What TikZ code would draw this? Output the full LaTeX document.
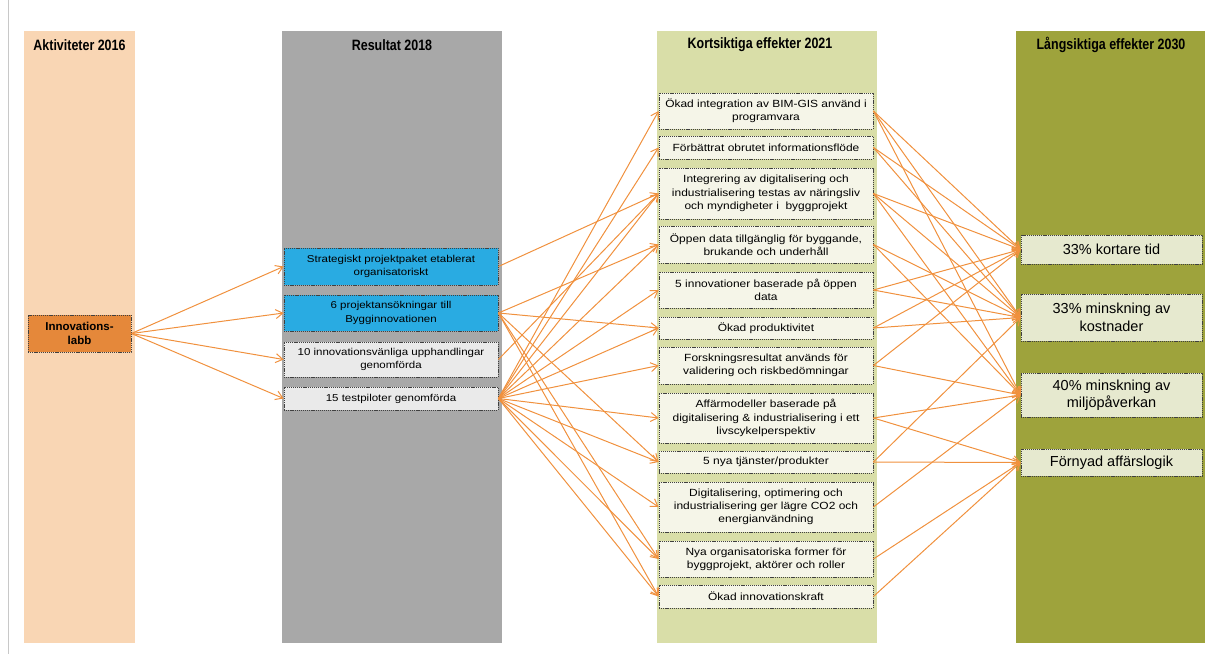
\documentclass[tikz,border=0pt]{standalone}
\usepackage{fontspec}
\setmainfont{Liberation Sans}
\newfontfamily\boxfont[FakeStretch=1.15]{Liberation Sans}
\newfontfamily\headfont[FakeStretch=0.83]{Liberation Sans}
\usetikzlibrary{arrows.meta}
\definecolor{peach}{HTML}{F9D6B4}
\definecolor{colgray}{HTML}{A8A8A8}
\definecolor{paleolive}{HTML}{D9DEA8}
\definecolor{olive}{HTML}{9EA33C}
\definecolor{labborange}{HTML}{E5883A}
\definecolor{resblue}{HTML}{29ABE2}
\definecolor{resgray}{HTML}{EAEAEA}
\definecolor{effcream}{HTML}{F5F5E8}
\definecolor{ltcream}{HTML}{E6E9CF}
\definecolor{linkorange}{HTML}{F0913E}
\definecolor{framegray}{HTML}{C8C8C8}
\begin{document}
\begin{tikzpicture}[x=1pt,y=-1pt,line join=round,
  box/.style={draw=black!75,dash pattern=on 1.2pt off 0.9pt,line width=.8pt,
    inner sep=0pt,align=center,font=\boxfont\fontsize{10}{13.3}\selectfont},
  resbox/.style={box,minimum width=214pt,fill=#1},
  effbox/.style={box,minimum width=214pt,fill=effcream,
    font=\boxfont\fontsize{10.4}{13.3}\selectfont},
  ltbox/.style={box,minimum width=181pt,fill=ltcream,
    font=\fontsize{14.5}{17.5}\selectfont},
  labbbox/.style={box,minimum width=103pt,fill=labborange,
    font=\bfseries\fontsize{11.5}{14}\selectfont},
  head/.style={font=\headfont\bfseries\fontsize{15}{18}\selectfont},
  link/.style={draw=linkorange,line width=1pt,-{Straight Barb[length=7pt,width=9pt]}}]
\useasboundingbox (0,0) rectangle (1210,654);
% columns
\draw[framegray,line width=1pt] (8,0)--(8,654);
\fill[peach] (24,31) rectangle (135,643);
\fill[colgray] (282,31) rectangle (502,643);
\fill[paleolive] (657,31) rectangle (877,643);
\fill[olive] (1016,31) rectangle (1205,643);
\path
(79.5,45) node[head] (h1) {Aktiviteter 2016}
(392,45) node[head] (h2) {Resultat 2018}
(760,45) node[head] (h3) {Kortsiktiga effekter 2021}
(1111,45) node[head] (h4) {Långsiktiga effekter 2030}
;
% aktiviteter
\path (79.5,333.5) node[labbbox,minimum height=37pt] (labb) {Innovations-\\labb};
% resultat
\path
(391,266.5) node[resbox=resblue,minimum height=37pt] (strat) {Strategiskt projektpaket etablerat\\organisatoriskt}
(391,313) node[resbox=resblue,minimum height=36pt] (proj) {6 projektansökningar till\\Bygginnovationen}
(391,359.5) node[resbox=resgray,minimum height=35pt] (upph) {10 innovationsvänliga  upphandlingar\\genomförda}
(391,398.5) node[resbox=resgray,minimum height=23pt] (pilot) {15 testpiloter genomförda}
;
% kortsiktiga effekter
\path
(766,111) node[effbox,minimum height=36pt] (oi) {Ökad integration av BIM-GIS använd i\\programvara}
(766,147.5) node[effbox,minimum height=23pt] (fb) {Förbättrat obrutet informationsflöde}
(766,193.5) node[effbox,minimum height=51pt] (ig) {Integrering av digitalisering och\\industrialisering testas av näringsliv\\och myndigheter i \ byggprojekt}
(766,244.5) node[effbox,minimum height=37pt] (od) {Öppen data tillgänglig för byggande,\\brukande och underhåll}
(766,290) node[effbox,minimum height=36pt] (inv) {5 innovationer baserade på öppen\\data}
(766,328) node[effbox,minimum height=22pt] (pr) {Ökad produktivitet}
(766,365.5) node[effbox,minimum height=37pt] (fo) {Forskningsresultat används för\\validering och riskbedömningar}
(766,418) node[effbox,minimum height=50pt] (af) {Affärmodeller baserade på\\digitalisering \& industrialisering i ett\\livscykelperspektiv}
(766,462) node[effbox,minimum height=22pt] (nt) {5 nya tjänster/produkter}
(766,507) node[effbox,minimum height=50pt] (dg) {Digitalisering, optimering och\\industrialisering ger lägre CO2 och\\energianvändning}
(766,559) node[effbox,minimum height=36pt] (no) {Nya organisatoriska former för\\byggprojekt, aktörer och roller}
(766,596.5) node[effbox,minimum height=23pt] (ik) {Ökad innovationskraft}
;
% långsiktiga effekter
\path
(1111.5,249.5) node[ltbox,minimum height=29pt] (kt) {33\% kortare tid}
(1111.5,317.5) node[ltbox,minimum height=47pt] (ko) {33\% minskning av\\kostnader}
(1111.5,395) node[ltbox,minimum height=44pt] (mi) {40\% minskning av\\miljöpåverkan}
(1111.5,462.5) node[ltbox,minimum height=27pt] (fa) {Förnyad affärslogik}
;
% pilar
\path (labb.east) edge[link] (strat.west) edge[link] (proj.west)
  edge[link] (upph.west) edge[link] (pilot.west);
\path (strat.east) edge[link] (ig.west);
\path (upph.east) edge[link] (ig.west);
\path (proj.east) edge[link] (od.west) edge[link] (pr.west) edge[link] (nt.west)
  edge[link] (no.west) edge[link] (ik.west);
\path (pilot.east) edge[link] (oi.west) edge[link] (fb.west) edge[link] (ig.west)
  edge[link] (od.west) edge[link] (inv.west) edge[link] (pr.west)
  edge[link] (fo.west) edge[link] (af.west) edge[link] (nt.west)
  edge[link] (dg.west) edge[link] (no.west) edge[link] (ik.west);
\path (oi.east) edge[link] (kt.west) edge[link] (ko.west) edge[link] (mi.west);
\path (fb.east) edge[link] (kt.west) edge[link] (ko.west);
\path (ig.east) edge[link] (kt.west) edge[link] (ko.west) edge[link] (mi.west);
\path (od.east) edge[link] (ko.west) edge[link] (mi.west);
\path (inv.east) edge[link] (kt.west) edge[link] (ko.west);
\path (pr.east) edge[link] (kt.west) edge[link] (ko.west);
\path (fo.east) edge[link] (kt.west) edge[link] (mi.west);
\path (af.east) edge[link] (mi.west) edge[link] (fa.west);
\path (nt.east) edge[link] (ko.west) edge[link] (fa.west);
\path (dg.east) edge[link] (mi.west);
\path (no.east) edge[link] (fa.west);
\path (ik.east) edge[link] (fa.west);
\end{tikzpicture}
\end{document}
